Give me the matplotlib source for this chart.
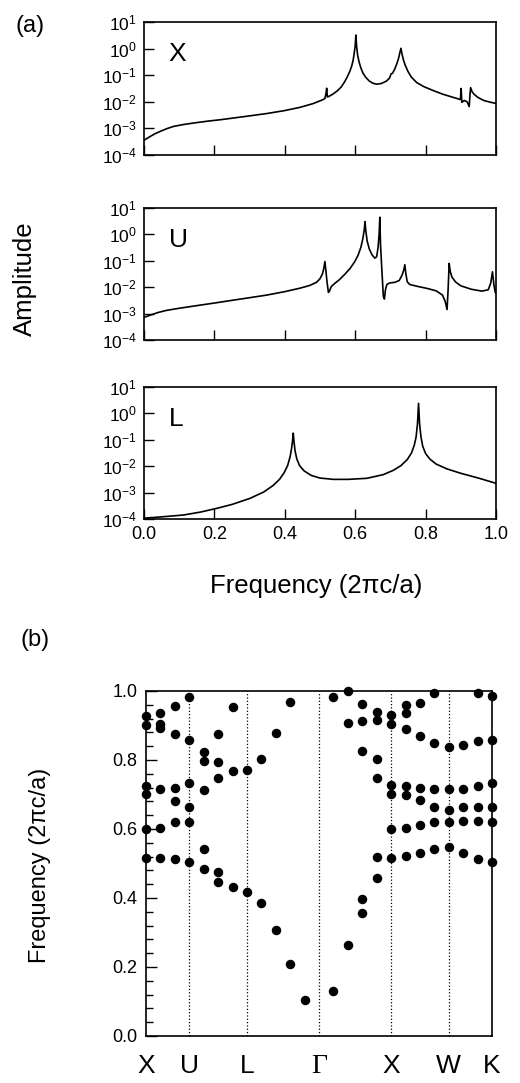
import numpy as np
import matplotlib.pyplot as plt
from matplotlib.ticker import NullLocator, MultipleLocator

plt.rcParams['font.family'] = ['Liberation Sans', 'DejaVu Sans']
plt.rcParams['mathtext.fontset'] = 'custom'
plt.rcParams['mathtext.rm'] = 'Liberation Sans'
plt.rcParams['mathtext.it'] = 'Liberation Sans:italic'
plt.rcParams['axes.linewidth'] = 1.2

# --- panel (a): amplitude spectra, frequency and log10(amplitude)
x_freq = [0.000, 0.008, 0.017, 0.030, 0.045, 0.065, 0.083, 0.110, 0.140, 0.180,
          0.220, 0.260, 0.300, 0.350, 0.400, 0.443, 0.480, 0.505, 0.514, 0.517,
          0.519, 0.521, 0.525, 0.537, 0.550, 0.560, 0.570, 0.578, 0.585, 0.590,
          0.594, 0.597, 0.600, 0.602, 0.604, 0.607, 0.611, 0.616, 0.622, 0.630,
          0.640, 0.650, 0.661, 0.675, 0.689, 0.698, 0.702, 0.706, 0.712, 0.718,
          0.723, 0.727, 0.730, 0.733, 0.737, 0.742, 0.750, 0.760, 0.775, 0.795,
          0.822, 0.850, 0.875, 0.895, 0.899, 0.901, 0.903, 0.910, 0.918, 0.924,
          0.926, 0.928, 0.932, 0.938, 0.948, 0.965, 0.985, 1.000]
x_log_amp = [-3.45, -3.38, -3.31, -3.21, -3.12, -3.01, -2.93, -2.86, -2.80, -2.73,
             -2.67, -2.60, -2.53, -2.44, -2.33, -2.21, -2.07, -1.94, -1.88, -1.70,
             -1.49, -1.82, -1.80, -1.71, -1.58, -1.45, -1.25, -1.05, -0.85, -0.66,
             -0.45, -0.20, 0.10, 0.51, 0.10, -0.25, -0.50, -0.72, -0.92, -1.08,
             -1.22, -1.30, -1.34, -1.31, -1.22, -1.10, -0.95, -0.93, -0.78, -0.58,
             -0.38, -0.15, 0.01, -0.20, -0.42, -0.62, -0.86, -1.08, -1.28, -1.43,
             -1.58, -1.72, -1.82, -1.90, -1.92, -1.50, -2.02, -1.95, -2.00, -2.18,
             -1.75, -1.47, -1.62, -1.72, -1.83, -1.95, -2.02, -2.06]

u_freq = [0.000, 0.010, 0.020, 0.040, 0.064, 0.100, 0.150, 0.206, 0.250, 0.300,
          0.349, 0.400, 0.443, 0.470, 0.490, 0.500, 0.507, 0.511, 0.514, 0.517,
          0.520, 0.524, 0.527, 0.532, 0.540, 0.555, 0.570, 0.585, 0.598, 0.608,
          0.616, 0.622, 0.626, 0.628, 0.630, 0.634, 0.640, 0.648, 0.656, 0.661,
          0.665, 0.668, 0.670, 0.672, 0.676, 0.680, 0.683, 0.686, 0.690, 0.698,
          0.712, 0.725, 0.733, 0.738, 0.741, 0.744, 0.748, 0.755, 0.780, 0.805,
          0.830, 0.848, 0.856, 0.861, 0.864, 0.867, 0.870, 0.875, 0.885, 0.900,
          0.930, 0.960, 0.978, 0.985, 0.990, 0.994, 0.998, 1.000]
u_log_amp = [-3.14, -3.10, -3.05, -2.96, -2.88, -2.80, -2.70, -2.59, -2.50, -2.40,
             -2.30, -2.17, -2.04, -1.94, -1.82, -1.68, -1.50, -1.28, -1.03, -1.40,
             -1.80, -2.20, -2.15, -1.98, -1.88, -1.72, -1.52, -1.30, -1.05, -0.80,
             -0.50, -0.15, 0.20, 0.48, 0.15, -0.25, -0.55, -0.78, -0.90, -0.85,
             -0.50, 0.00, 0.65, -0.40, -1.40, -2.35, -2.45, -2.10, -1.90, -1.84,
             -1.82, -1.75, -1.55, -1.35, -1.15, -1.50, -1.80, -1.90, -1.98, -2.05,
             -2.14, -2.30, -2.55, -2.85, -2.10, -1.10, -1.40, -1.62, -1.80, -1.95,
             -2.08, -2.15, -2.10, -1.85, -1.42, -1.90, -2.20, -2.23]

l_freq = [0.000, 0.050, 0.112, 0.160, 0.206, 0.250, 0.301, 0.340, 0.367, 0.385,
          0.398, 0.408, 0.415, 0.419, 0.422, 0.424, 0.426, 0.429, 0.434, 0.442,
          0.455, 0.475, 0.500, 0.538, 0.580, 0.633, 0.680, 0.708, 0.730, 0.748,
          0.760, 0.768, 0.773, 0.777, 0.780, 0.783, 0.787, 0.792, 0.800, 0.812,
          0.830, 0.860, 0.900, 0.950, 1.000]
l_log_amp = [-3.97, -3.92, -3.85, -3.74, -3.60, -3.45, -3.22, -2.98, -2.73, -2.50,
             -2.25, -1.98, -1.65, -1.35, -1.05, -0.75, -1.05, -1.40, -1.72, -1.98,
             -2.18, -2.35, -2.45, -2.50, -2.50, -2.46, -2.32, -2.16, -1.98, -1.75,
             -1.50, -1.20, -0.90, -0.40, 0.38, -0.40, -0.90, -1.25, -1.52, -1.73,
             -1.92, -2.10, -2.27, -2.45, -2.65]

spectra = [('X', x_freq, x_log_amp), ('U', u_freq, u_log_amp), ('L', l_freq, l_log_amp)]
decades = [1e1, 1e0, 1e-1, 1e-2, 1e-3, 1e-4]
decade_labels = [r'$10^{1}$', r'$10^{0}$', r'$10^{-1}$', r'$10^{-2}$', r'$10^{-3}$', r'$10^{-4}$']
freq_ticks = [0.0, 0.2, 0.4, 0.6, 0.8, 1.0]

# --- panel (b): band structure, one list of frequencies per k-point
k_labels = ['X', 'U', 'L', '\u0393', 'X', 'W', 'K']
k_label_pos = [0, 3, 7, 12, 17, 21, 24]
band_freqs = [
    [0.926, 0.901, 0.725, 0.701, 0.599, 0.517],
    [0.937, 0.903, 0.894, 0.715, 0.604, 0.517],
    [0.957, 0.874, 0.718, 0.681, 0.619, 0.512],
    [0.983, 0.858, 0.732, 0.663, 0.619, 0.505],
    [0.824, 0.796, 0.714, 0.541, 0.483],
    [0.874, 0.795, 0.749, 0.476, 0.447],
    [0.953, 0.768, 0.431],
    [0.771, 0.416],
    [0.803, 0.385],
    [0.877, 0.307],
    [0.967, 0.209],
    [0.104],
    [],
    [0.982, 0.131],
    [1.000, 0.906, 0.264],
    [0.961, 0.914, 0.827, 0.396, 0.357],
    [0.938, 0.916, 0.803, 0.749, 0.518, 0.459],
    [0.930, 0.903, 0.726, 0.700, 0.600, 0.517],
    [0.959, 0.937, 0.890, 0.725, 0.699, 0.604, 0.522],
    [0.966, 0.868, 0.720, 0.684, 0.612, 0.530],
    [0.993, 0.848, 0.715, 0.664, 0.619, 0.541],
    [0.839, 0.715, 0.656, 0.619, 0.549],
    [0.843, 0.715, 0.664, 0.623, 0.530],
    [0.993, 0.856, 0.725, 0.664, 0.623, 0.513],
    [0.986, 0.858, 0.734, 0.664, 0.619, 0.505],
]

fig = plt.figure(figsize=(5.2, 10.83), dpi=100)

rects = [[0.2769, 0.8569, 0.6769, 0.1228],
         [0.2769, 0.6861, 0.6769, 0.1219],
         [0.2769, 0.5208, 0.6769, 0.1219]]
for i, (name, f, la) in enumerate(spectra):
    ax = fig.add_axes(rects[i])
    ax.plot(f, 10.0 ** np.array(la), color='black', lw=1.2)
    ax.set_yscale('log')
    ax.set_ylim(1e-4, 1e1)
    ax.set_xlim(0, 1)
    ax.set_yticks(decades)
    ax.set_yticklabels(decade_labels)
    ax.yaxis.set_minor_locator(NullLocator())
    ax.set_xticks(freq_ticks)
    ax.tick_params(direction='in', length=7, width=1, labelsize=12.5, pad=5)
    if i < 2:
        ax.set_xticklabels([])
    else:
        ax.set_xticklabels(['%.1f' % t for t in freq_ticks], fontsize=13)
    ax.text(0.07, 0.76, name, transform=ax.transAxes, fontsize=19, va='center')

fig.text(0.608, 0.459, 'Frequency (2\u03c0c/a)', fontsize=18.5, ha='center', va='center')
fig.text(0.048, 0.743, 'Amplitude', fontsize=18.5, rotation=90, ha='center', va='center')
fig.text(0.058, 0.976, '(a)', fontsize=17, ha='center', va='center')
fig.text(0.067, 0.409, '(b)', fontsize=17, ha='center', va='center')

axb = fig.add_axes([0.2808, 0.0434, 0.6654, 0.3186])
for k, freqs in enumerate(band_freqs):
    if freqs:
        axb.scatter([k] * len(freqs), freqs, s=34, color='black', clip_on=False, zorder=3)
for p in k_label_pos[1:-1]:
    axb.axvline(p, color='black', ls=':', lw=0.9)
axb.set_xlim(0, 24)
axb.set_ylim(0, 1)
axb.set_xticks(k_label_pos)
axb.set_xticklabels(k_labels, fontsize=19)
for lbl in axb.get_xticklabels():
    if lbl.get_text() == '\u0393':
        lbl.set_fontfamily('Liberation Serif')
        lbl.set_fontsize(20)
axb.tick_params(axis='x', length=0, pad=13)
axb.yaxis.set_major_locator(MultipleLocator(0.2))
axb.yaxis.set_minor_locator(MultipleLocator(0.04))
axb.yaxis.set_major_formatter(plt.FormatStrFormatter('%.1f'))
axb.tick_params(axis='y', which='major', direction='in', length=8, width=1, labelsize=13, pad=6)
axb.tick_params(axis='y', which='minor', direction='in', length=5, width=1)
fig.text(0.077, 0.201, 'Frequency (2\u03c0c/a)', fontsize=17, rotation=90, ha='center', va='center')

fig.savefig('out.png', dpi=100)
